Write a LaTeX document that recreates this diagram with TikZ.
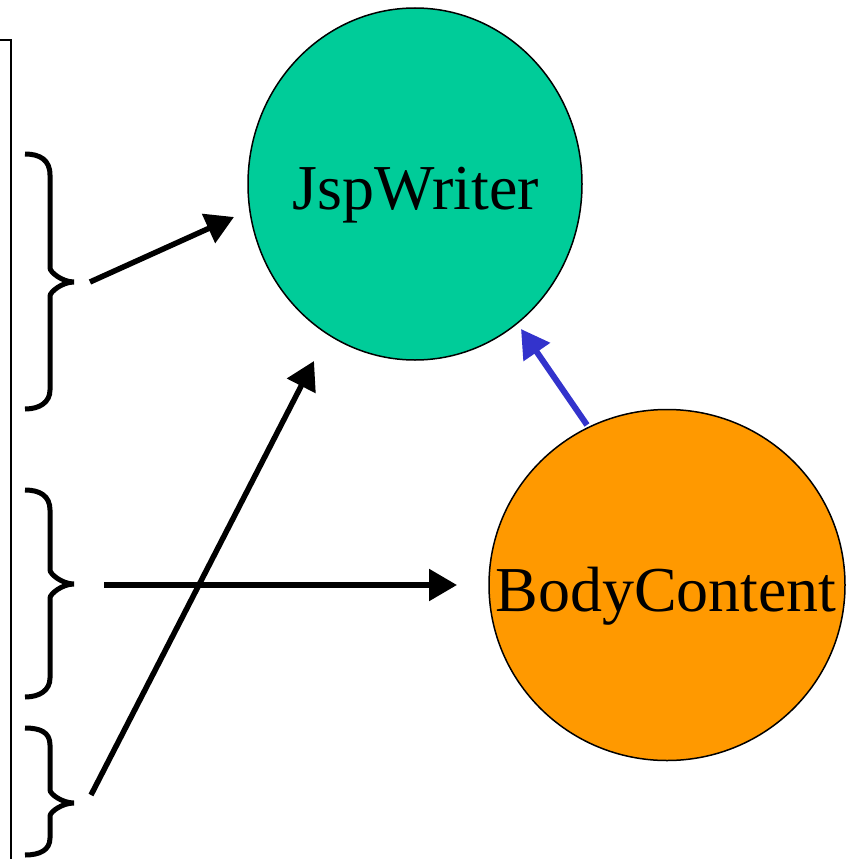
\documentclass[tikz,border=0pt]{standalone}
\usepackage{fontspec}
\setmainfont{Liberation Serif}
\usetikzlibrary{arrows.meta,shapes.geometric}
\definecolor{jwgreen}{RGB}{0,204,153}
\definecolor{bcorange}{RGB}{255,153,0}
\definecolor{arrblue}{RGB}{51,51,204}
\begin{document}
\begin{tikzpicture}[x=1pt,y=-1pt,
  oval/.style={ellipse,draw=black,line width=1.5pt,inner sep=0pt,font=\fontsize{64}{70}\selectfont},
  bracepath/.style={line width=5pt,line cap=butt,line join=miter},
  conn/.style={line width=5.5pt,-{Triangle[length=28pt,width=31pt]}},
  blueconn/.style={line width=6pt,arrblue,-{Triangle[length=28pt,width=31pt]}}]
\useasboundingbox (0,0) rectangle (846,859);
% left frame line
\draw[line width=2pt] (0,40) -- (11,40) -- (11,861);
% ellipses
\node[oval,fill=jwgreen,minimum width=334pt,minimum height=352pt] (jw) at (415,184) {};
\node[font=\fontsize{64}{70}\selectfont] (jwt) at (416,195) {JspWriter};
\node[oval,fill=bcorange,minimum width=356pt,minimum height=351pt] (bc) at (667,585) {};
\node[font=\fontsize{64}{70}\selectfont] (bct) at (666,596) {BodyContent};
% braces
\draw[bracepath] (25,154) .. controls (40,154) and (50,160) .. (50,175) -- (50,268)
  .. controls (50,272) and (62,282) .. (74,282)
  .. controls (62,282) and (50,292) .. (50,296) -- (50,390)
  .. controls (50,402) and (40,409) .. (25,409);
\draw[bracepath] (25,490) .. controls (40,490) and (50,496) .. (50,510) -- (50,570)
  .. controls (50,574) and (62,584) .. (74,584)
  .. controls (62,584) and (50,594) .. (50,598) -- (50,678)
  .. controls (50,690) and (40,697) .. (25,697);
\draw[bracepath] (25,728) .. controls (40,728) and (50,732) .. (50,745) -- (50,790)
  .. controls (50,794) and (62,803) .. (74,803)
  .. controls (62,803) and (50,812) .. (50,816) -- (50,838)
  .. controls (50,850) and (40,855) .. (25,855);
% connector endpoints
\coordinate (s1) at (90,282);
\coordinate (e1) at (234,217);
\coordinate (s2) at (104,585);
\coordinate (e2) at (457,585);
\coordinate (s3) at (91,795);
\coordinate (e3) at (314,361);
\coordinate (sb) at (587,425);
\coordinate (eb) at (521,329);
\draw[conn] (s1) -- (e1);
\draw[conn] (s2) -- (e2);
\draw[conn] (s3) -- (e3);
\draw[blueconn] (sb) -- (eb);
\end{tikzpicture}
\end{document}
